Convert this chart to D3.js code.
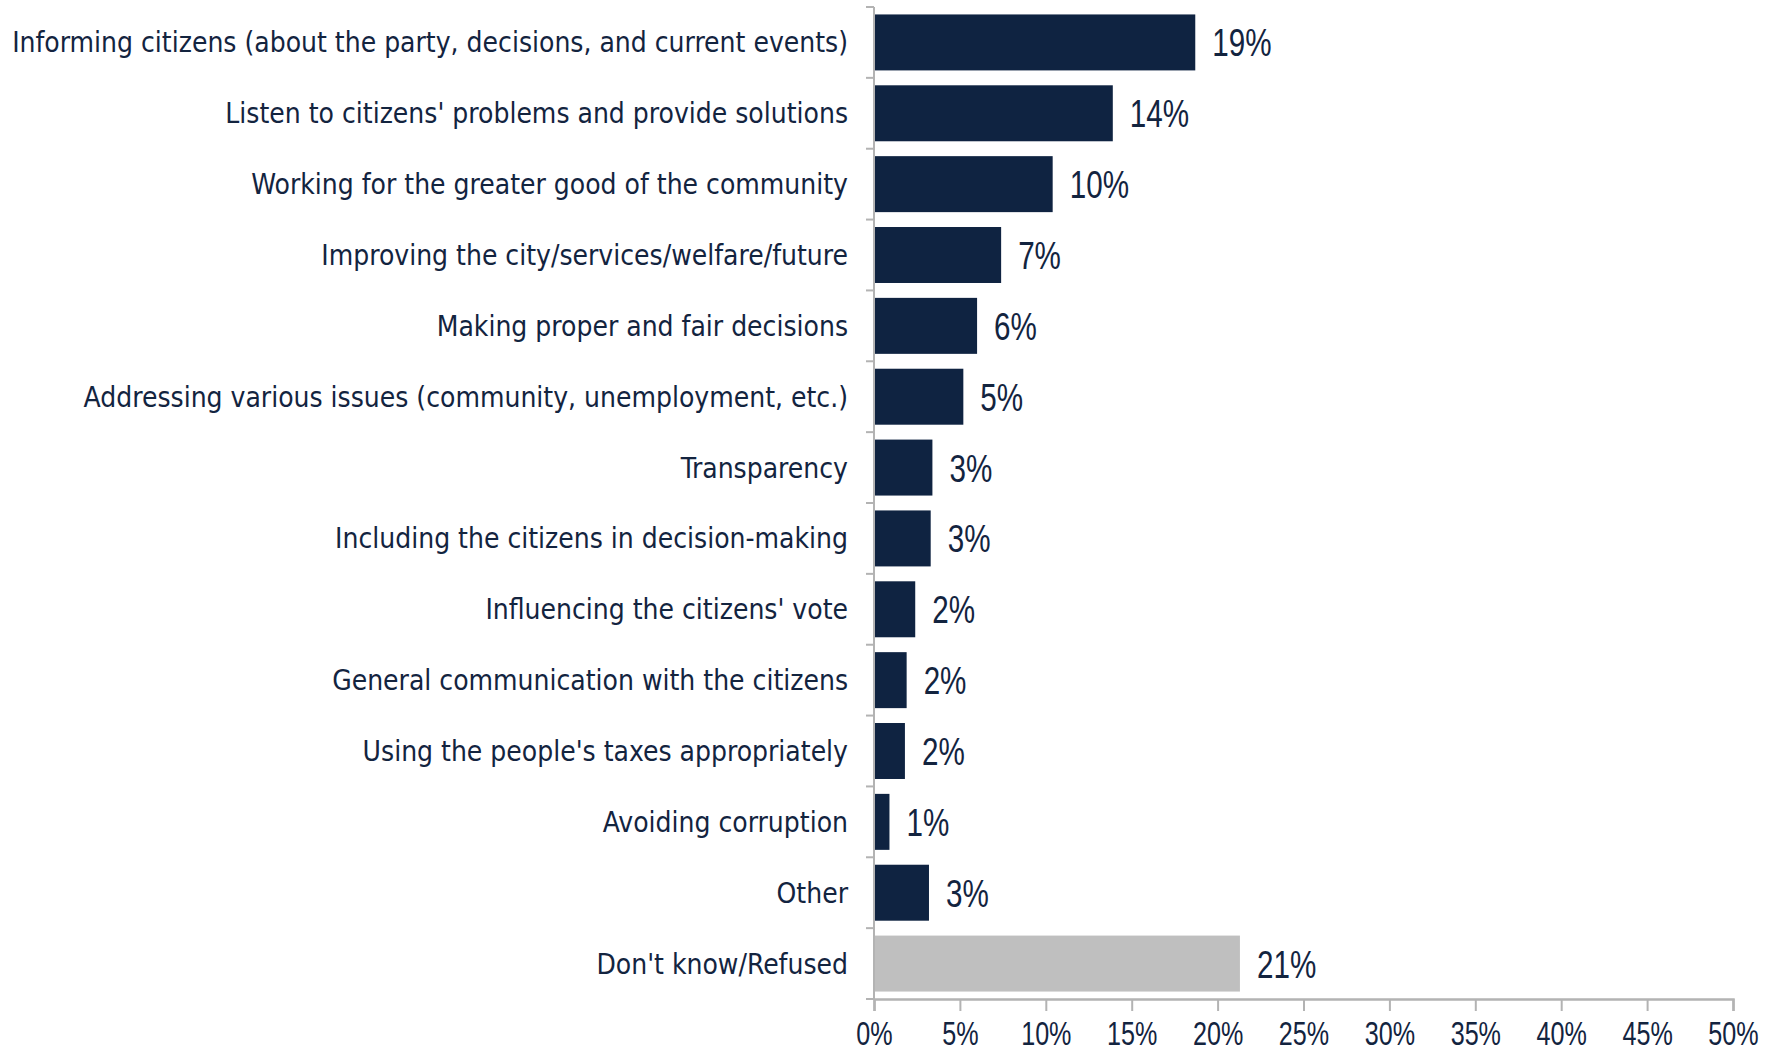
<!DOCTYPE html>
<html>
<head>
<meta charset="utf-8">
<script src="https://cdn.jsdelivr.net/npm/d3@7"></script>
<style>
  html, body { margin: 0; padding: 0; background: #ffffff; }
  svg { display: block; }
</style>
</head>
<body>
<svg id="chart" width="1777" height="1054"></svg>
<script>
const categories = [
  "Informing citizens (about the party, decisions, and current events)",
  "Listen to citizens' problems and provide solutions",
  "Working for the greater good of the community",
  "Improving the city/services/welfare/future",
  "Making proper and fair decisions",
  "Addressing various issues (community, unemployment, etc.)",
  "Transparency",
  "Including the citizens in decision-making",
  "Influencing the citizens' vote",
  "General communication with the citizens",
  "Using the people's taxes appropriately",
  "Avoiding corruption",
  "Other",
  "Don't know/Refused"
];
const values = [18.7, 13.9, 10.4, 7.4, 6.0, 5.2, 3.4, 3.3, 2.4, 1.9, 1.8, 0.9, 3.2, 21.3];
const valueLabels = ["19%", "14%", "10%", "7%", "6%", "5%", "3%", "3%", "2%", "2%", "2%", "1%", "3%", "21%"];
const xTicks = [0, 5, 10, 15, 20, 25, 30, 35, 40, 45, 50];
const grayCategory = "Don't know/Refused";

const navy = "#0f2341";
const gray = "#bfbfbf";
const axisColor = "#b3b3b3";
const textColor = "#13243f";
const numFont = "'Liberation Sans', Arial, sans-serif";
const condense = 0.76;

const svg = d3.select("#chart");
const margin = { left: 874, right: 1777 - 1733, top: 7, bottom: 1054 - 999 };
const W = 1777, H = 1054;

const x = d3.scaleLinear().domain([0, 50]).range([margin.left, W - margin.right]);
const y = d3.scaleBand().domain(categories).range([margin.top, H - margin.bottom]).paddingInner(0.21).paddingOuter(0.105);

const data = categories.map((c, i) => ({ c, v: values[i], label: valueLabels[i] }));

// bars
svg.append("g").selectAll("rect").data(data).join("rect")
  .attr("x", x(0) + 1)
  .attr("y", d => y(d.c))
  .attr("width", d => x(d.v) - x(0) - 1)
  .attr("height", y.bandwidth())
  .attr("fill", d => d.c === grayCategory ? gray : navy);

// value labels (condensed horizontally)
svg.append("g").selectAll("text").data(data).join("text")
  .attr("transform", d => `translate(${x(d.v) + 17},${y(d.c) + y.bandwidth() / 2}) scale(${condense},1)`)
  .attr("dy", "0.36em")
  .attr("font-family", numFont)
  .attr("font-size", 39)
  .attr("fill", textColor)
  .text(d => d.label);

// y axis: line and ticks at band boundaries
const yAxisG = svg.append("g");
yAxisG.append("line")
  .attr("x1", x(0)).attr("x2", x(0))
  .attr("y1", margin.top).attr("y2", H - margin.bottom)
  .attr("stroke", axisColor).attr("stroke-width", 2);
const boundaries = d3.range(categories.length + 1).map(i => margin.top + i * ((H - margin.bottom - margin.top) / categories.length));
yAxisG.selectAll("line.t").data(boundaries).join("line")
  .attr("class", "t")
  .attr("x1", x(0) - 8).attr("x2", x(0))
  .attr("y1", d => d).attr("y2", d => d)
  .attr("stroke", axisColor).attr("stroke-width", 2);

// category labels
const labelG = svg.append("g").selectAll("text").data(data).join("text")
  .attr("x", x(0) - 26)
  .attr("y", d => y(d.c) + y.bandwidth() / 2)
  .attr("dy", "0.36em")
  .attr("text-anchor", "end")
  .attr("font-family", "'DejaVu Sans Condensed', 'DejaVu Sans', sans-serif")
  .attr("font-size", 24)
  .attr("fill", textColor)
  .text(d => d.c);
let maxW = 0;
labelG.each(function () { maxW = Math.max(maxW, this.getComputedTextLength()); });
labelG.attr("font-size", 24 * 836 / maxW);

// x axis
const xAxis = d3.axisBottom(x).tickValues(xTicks).tickFormat(d => d + "%").tickSize(12).tickPadding(10);
const xg = svg.append("g").attr("transform", `translate(0,${H - margin.bottom})`).call(xAxis);
xg.select(".domain").attr("stroke", axisColor).attr("stroke-width", 2.5);
xg.selectAll(".tick line").attr("stroke", axisColor).attr("stroke-width", 2);
xg.selectAll(".tick text")
  .attr("font-family", numFont)
  .attr("font-size", 34)
  .attr("transform", `scale(${condense - 0.02},1)`)
  .attr("fill", textColor);
</script>
</body>
</html>
